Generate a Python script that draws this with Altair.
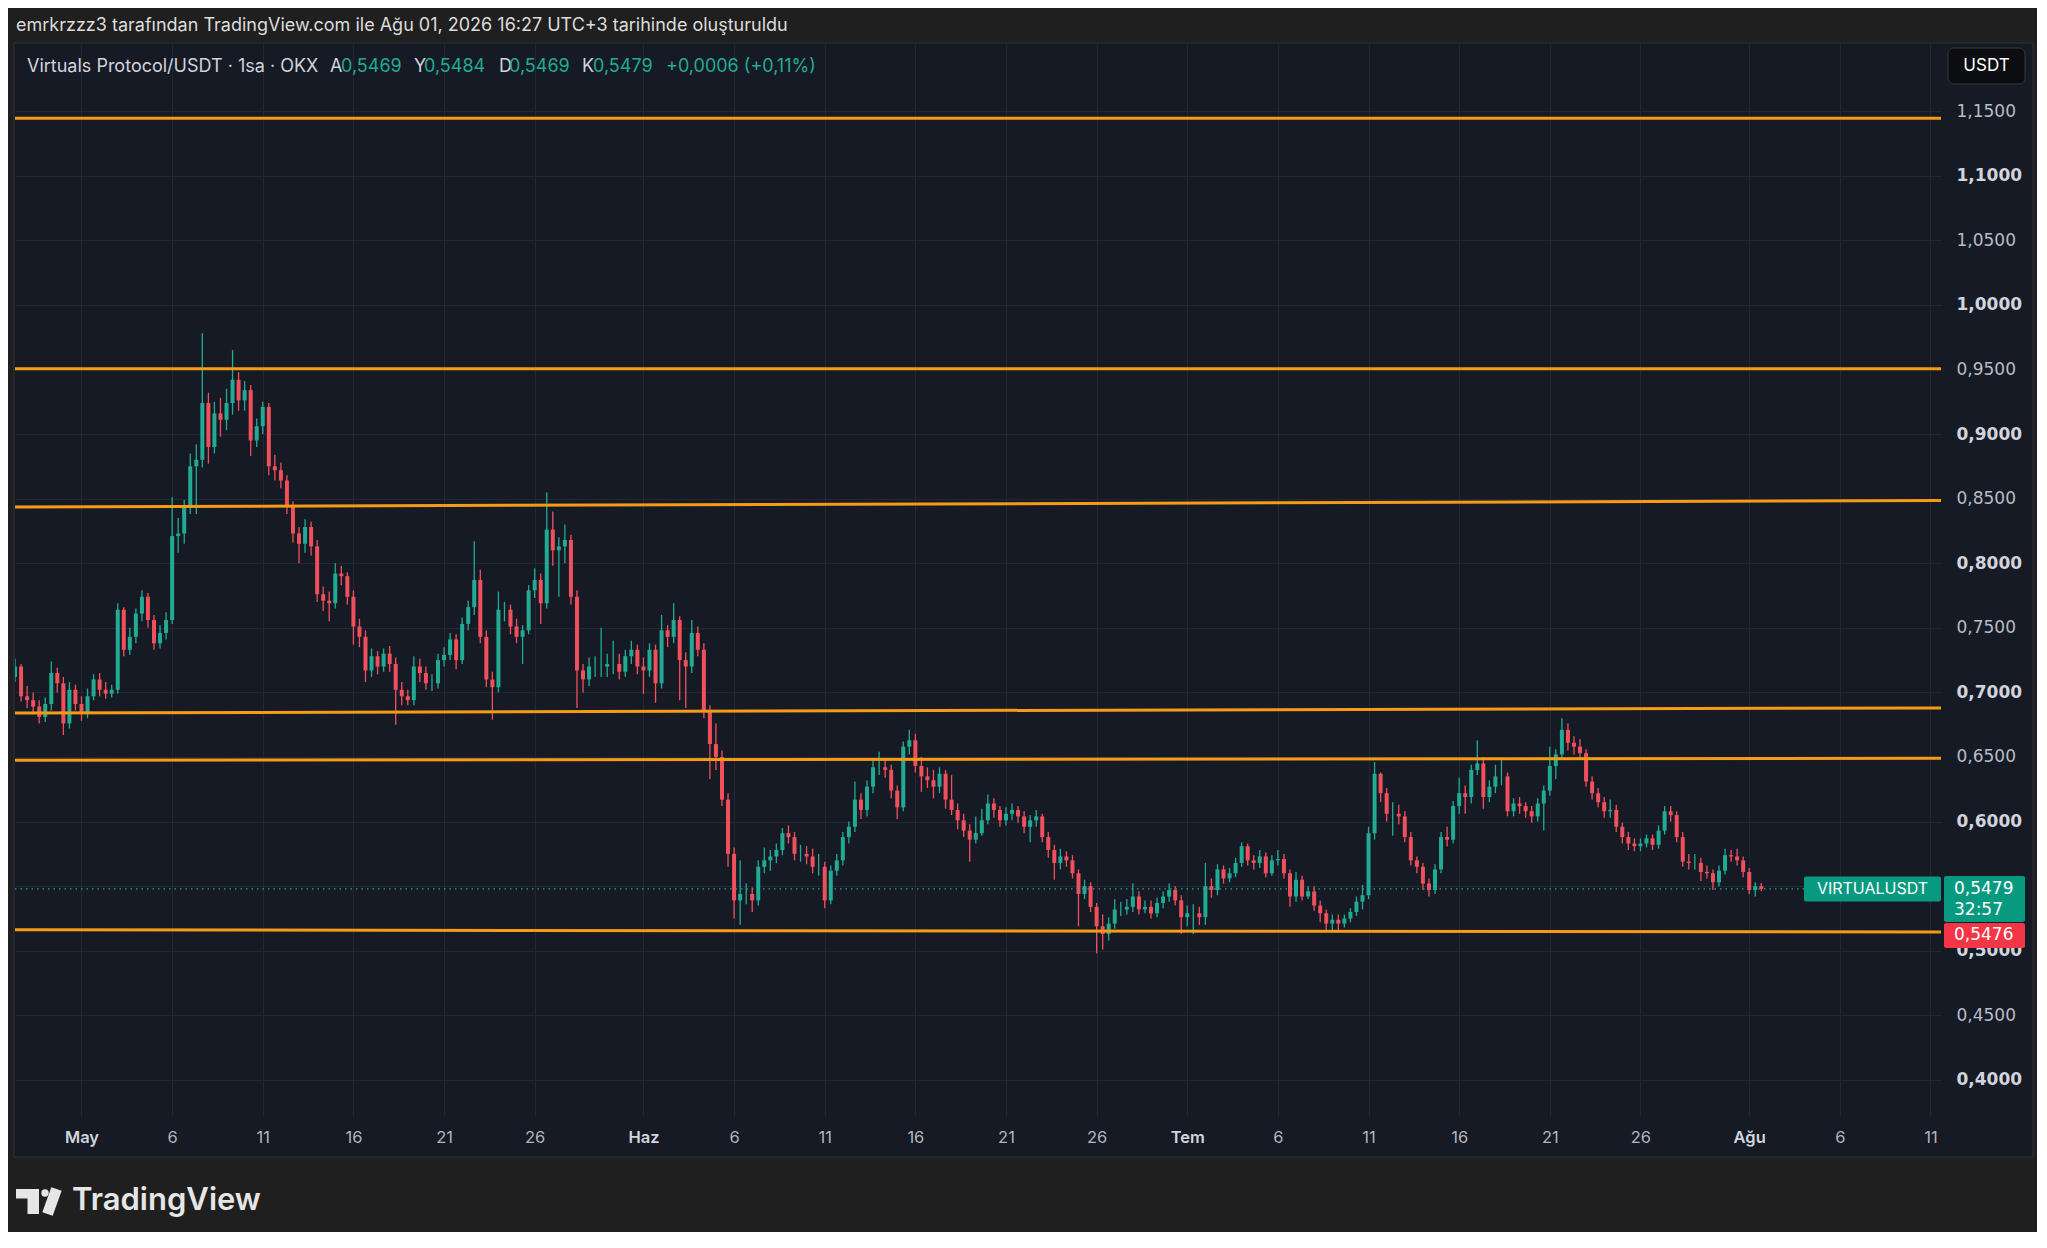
import altair as alt
import pandas as pd

# ---------------- data ----------------
START_DAY = -4.0          # day 0 = 1 May, one candle every 8 hours
FIRST_OPEN = 0.715

CLOSE = [
    0.712, 0.720, 0.697,  0.694, 0.689, 0.681,  0.691, 0.715, 0.707,  0.676, 0.702, 0.691,
    0.684, 0.697, 0.710,  0.702, 0.699, 0.702,  0.764, 0.733, 0.743,  0.761, 0.774, 0.756,
    0.738, 0.746, 0.756,  0.821, 0.823, 0.844,  0.875, 0.880, 0.924,  0.890, 0.916, 0.911,
    0.924, 0.942, 0.926,  0.934, 0.895, 0.906,  0.921, 0.875, 0.872,  0.864, 0.844, 0.823,
    0.815, 0.828, 0.813,  0.776, 0.771, 0.769,  0.792, 0.790, 0.774,  0.751, 0.743, 0.717,
    0.728, 0.720, 0.730,  0.722, 0.702, 0.697,  0.694, 0.720, 0.715,  0.707, 0.707, 0.725,
    0.729, 0.741, 0.725,  0.753, 0.766, 0.787,  0.743, 0.710, 0.704,  0.764, 0.764, 0.751,
    0.743, 0.748, 0.779,  0.787, 0.769, 0.826,  0.810, 0.813, 0.818,  0.774, 0.717, 0.710,
    0.720, 0.720, 0.720,  0.722, 0.722, 0.716,  0.728, 0.733, 0.720,  0.717, 0.733, 0.707,
    0.748, 0.743, 0.756,  0.725, 0.720, 0.746,  0.733, 0.686, 0.660,  0.650, 0.617, 0.575,
    0.539, 0.544, 0.544,  0.539, 0.565, 0.570,  0.573, 0.578, 0.591,  0.588, 0.575, 0.575,
    0.573, 0.565, 0.565,  0.539, 0.562, 0.570,  0.588, 0.596, 0.617,  0.609, 0.627, 0.642,
    0.642, 0.640, 0.624,  0.611, 0.658, 0.663,  0.643, 0.635, 0.632,  0.627, 0.637, 0.617,
    0.609, 0.601, 0.593,  0.586, 0.591, 0.601,  0.614, 0.609, 0.601,  0.606, 0.609, 0.604,
    0.596, 0.601, 0.604,  0.588, 0.578, 0.568,  0.573, 0.570, 0.560,  0.544, 0.550, 0.534,
    0.519, 0.513, 0.521,  0.532, 0.532, 0.534,  0.542, 0.532, 0.534,  0.529, 0.537, 0.542,
    0.547, 0.539, 0.526,  0.529, 0.529, 0.526,  0.550, 0.547, 0.563,  0.556, 0.560, 0.568,
    0.581, 0.570, 0.568,  0.573, 0.560, 0.570,  0.571, 0.560, 0.542,  0.555, 0.542, 0.546,
    0.535, 0.529, 0.521,  0.524, 0.521, 0.525,  0.530, 0.538, 0.543,  0.591, 0.637, 0.622,
    0.606, 0.606, 0.604,  0.588, 0.570, 0.565,  0.552, 0.547, 0.563,  0.588, 0.586, 0.612,
    0.622, 0.619, 0.640,  0.645, 0.619, 0.627,  0.635, 0.635, 0.608,  0.614, 0.612, 0.608,
    0.604, 0.614, 0.624,  0.643, 0.652, 0.671,  0.661, 0.658, 0.653,  0.631, 0.622, 0.615,
    0.608, 0.609, 0.596,  0.588, 0.583, 0.581,  0.583, 0.587, 0.582,  0.593, 0.608, 0.605,
    0.588, 0.569, 0.568,  0.568, 0.561, 0.560,  0.553, 0.562, 0.574,  0.573, 0.570, 0.561,
    0.547, 0.550, 0.5479,
]

HIGH = [
    0.722, 0.726, 0.722,  0.705, 0.700, 0.694,  0.696, 0.724, 0.719,  0.712, 0.708, 0.706,
    0.697, 0.703, 0.714,  0.715, 0.708, 0.706,  0.769, 0.766, 0.750,  0.765, 0.779, 0.777,
    0.760, 0.752, 0.762,  0.851, 0.835, 0.849,  0.885, 0.892, 0.978,  0.932, 0.925, 0.928,
    0.935, 0.965, 0.948,  0.941, 0.938, 0.912,  0.925, 0.924, 0.884,  0.878, 0.868, 0.848,
    0.828, 0.834, 0.832,  0.818, 0.782, 0.778,  0.800, 0.798, 0.793,  0.779, 0.757, 0.748,
    0.734, 0.732, 0.734,  0.736, 0.727, 0.708,  0.702, 0.728, 0.726,  0.720, 0.714, 0.730,
    0.735, 0.746, 0.745,  0.758, 0.771, 0.817,  0.795, 0.748, 0.716,  0.778, 0.770, 0.768,
    0.757, 0.752, 0.783,  0.796, 0.792, 0.855,  0.840, 0.820, 0.830,  0.822, 0.779, 0.722,
    0.727, 0.728, 0.750,  0.730, 0.740, 0.730,  0.733, 0.740, 0.737,  0.727, 0.738, 0.737,
    0.760, 0.752, 0.769,  0.759, 0.731, 0.756,  0.751, 0.738, 0.690,  0.676, 0.655, 0.622,
    0.580, 0.570, 0.552,  0.549, 0.570, 0.580,  0.578, 0.583, 0.595,  0.597, 0.592, 0.582,
    0.581, 0.579, 0.575,  0.569, 0.566, 0.575,  0.592, 0.600, 0.631,  0.622, 0.632, 0.647,
    0.654, 0.648, 0.644,  0.628, 0.662, 0.671,  0.668, 0.650, 0.642,  0.640, 0.642, 0.640,
    0.636, 0.614, 0.606,  0.598, 0.604, 0.610,  0.621, 0.618, 0.612,  0.611, 0.614, 0.612,
    0.608, 0.605, 0.609,  0.606, 0.592, 0.582,  0.579, 0.577, 0.574,  0.563, 0.555, 0.553,
    0.537, 0.528, 0.526,  0.540, 0.538, 0.540,  0.552, 0.546, 0.539,  0.539, 0.541, 0.546,
    0.552, 0.550, 0.543,  0.535, 0.536, 0.534,  0.568, 0.556, 0.567,  0.566, 0.564, 0.572,
    0.584, 0.583, 0.574,  0.578, 0.576, 0.574,  0.578, 0.575, 0.563,  0.561, 0.558, 0.550,
    0.550, 0.539, 0.532,  0.528, 0.528, 0.528,  0.533, 0.542, 0.551,  0.596, 0.646, 0.638,
    0.626, 0.615, 0.613,  0.608, 0.592, 0.573,  0.568, 0.556, 0.567,  0.592, 0.596, 0.616,
    0.634, 0.628, 0.644,  0.663, 0.650, 0.632,  0.644, 0.649, 0.638,  0.618, 0.619, 0.615,
    0.612, 0.618, 0.628,  0.658, 0.656, 0.680,  0.676, 0.666, 0.664,  0.656, 0.635, 0.626,
    0.619, 0.617, 0.613,  0.599, 0.592, 0.587,  0.587, 0.590, 0.590,  0.597, 0.612, 0.612,
    0.608, 0.592, 0.575,  0.575, 0.572, 0.566,  0.563, 0.566, 0.579,  0.578, 0.579, 0.573,
    0.564, 0.553, 0.5525,
]

LOW = [
    0.706, 0.708, 0.693,  0.688, 0.683, 0.676,  0.677, 0.686, 0.700,  0.667, 0.672, 0.686,
    0.678, 0.680, 0.694,  0.697, 0.695, 0.696,  0.699, 0.728, 0.729,  0.738, 0.755, 0.750,
    0.733, 0.734, 0.741,  0.753, 0.808, 0.815,  0.838, 0.838, 0.874,  0.877, 0.885, 0.898,
    0.903, 0.915, 0.918,  0.918, 0.883, 0.890,  0.900, 0.868, 0.864,  0.858, 0.838, 0.816,
    0.800, 0.808, 0.806,  0.770, 0.763, 0.755,  0.765, 0.783, 0.768,  0.737, 0.735, 0.708,
    0.712, 0.714, 0.716,  0.716, 0.675, 0.690,  0.690, 0.690, 0.708,  0.702, 0.701, 0.703,
    0.720, 0.725, 0.718,  0.722, 0.748, 0.760,  0.738, 0.704, 0.679,  0.700, 0.755, 0.745,
    0.738, 0.722, 0.745,  0.773, 0.753, 0.765,  0.798, 0.774, 0.800,  0.768, 0.688, 0.700,
    0.705, 0.712, 0.712,  0.712, 0.714, 0.710,  0.712, 0.722, 0.714,  0.699, 0.712, 0.692,
    0.703, 0.735, 0.738,  0.694, 0.688, 0.715,  0.728, 0.680, 0.633,  0.640, 0.612, 0.565,
    0.525, 0.520, 0.536,  0.530, 0.535, 0.560,  0.562, 0.568, 0.574,  0.583, 0.570, 0.569,
    0.567, 0.560, 0.558,  0.533, 0.536, 0.558,  0.566, 0.583, 0.592,  0.602, 0.604, 0.622,
    0.636, 0.634, 0.618,  0.602, 0.608, 0.652,  0.638, 0.623, 0.626,  0.618, 0.622, 0.610,
    0.605, 0.594, 0.588,  0.569, 0.583, 0.589,  0.598, 0.603, 0.596,  0.597, 0.601, 0.599,
    0.591, 0.584, 0.596,  0.584, 0.572, 0.555,  0.563, 0.565, 0.556,  0.519, 0.540, 0.530,
    0.498, 0.501, 0.508,  0.517, 0.527, 0.528,  0.530, 0.528, 0.529,  0.525, 0.526, 0.533,
    0.538, 0.535, 0.513,  0.519, 0.513, 0.520,  0.520, 0.541, 0.543,  0.552, 0.553, 0.557,
    0.565, 0.566, 0.563,  0.564, 0.557, 0.558,  0.566, 0.556, 0.534,  0.538, 0.539, 0.540,
    0.531, 0.522, 0.516,  0.516, 0.516, 0.518,  0.522, 0.527, 0.532,  0.540, 0.586, 0.615,
    0.600, 0.589, 0.598,  0.584, 0.566, 0.560,  0.547, 0.542, 0.544,  0.560, 0.581, 0.583,
    0.606, 0.606, 0.614,  0.636, 0.610, 0.615,  0.622, 0.628, 0.604,  0.604, 0.606, 0.603,
    0.599, 0.600, 0.593,  0.620, 0.633, 0.648,  0.655, 0.652, 0.648,  0.627, 0.617, 0.611,
    0.603, 0.603, 0.592,  0.583, 0.578, 0.577,  0.577, 0.580, 0.578,  0.579, 0.590, 0.600,
    0.584, 0.565, 0.563,  0.563, 0.554, 0.556,  0.547, 0.550, 0.559,  0.569, 0.566, 0.557,
    0.544, 0.542, 0.5460,
]

# drawn trend lines: price at the left and right edge of the pane
LINE_LEFT = [1.1445, 0.9505, 0.8435, 0.6840, 0.6475, 0.5162]
LINE_RIGHT = [1.1445, 0.9505, 0.8485, 0.6880, 0.6490, 0.5145]

PRICE_TICKS = [0.40, 0.45, 0.50, 0.55, 0.60, 0.65, 0.70, 0.75, 0.80,
               0.85, 0.90, 0.95, 1.00, 1.05, 1.10, 1.15]
TICK_DAYS = [0, 5, 10, 15, 20, 25, 31, 36, 41, 46, 51, 56, 61, 66, 71, 76, 81, 86, 92, 97, 102]
TICK_LABELS = ["May", "6", "11", "16", "21", "26", "Haz", "6", "11", "16", "21", "26",
               "Tem", "6", "11", "16", "21", "26", "Ağu", "6", "11"]
MONTH_TICKS = [0, 31, 61, 92]

SYMBOL = "VIRTUALUSDT"
TITLE = "Virtuals Protocol/USDT · 1sa · OKX"
OHLC_LETTERS = ["A", "Y", "D", "K"]
OHLC_LAST = [0.5469, 0.5484, 0.5469, 0.5479]
CHANGE_TEXT = "+0,0006 (+0,11%)"
LAST_PRICE = 0.5479
OTHER_PRICE = 0.5476
COUNTDOWN = "32:57"
HEADER = "emrkrzzz3 tarafından TradingView.com ile Ağu 01, 2026 16:27 UTC+3 tarihinde oluşturuldu"
CURRENCY = "USDT"


def fmt(v):
    return f"{v:.4f}".replace(".", ",")


# ---------------- layout / style ----------------
W, H = 1926, 1072
PAD = {"left": 7, "top": 36, "right": 96, "bottom": 116}
X_DOMAIN = [-3.668, 102.58]
Y_DOMAIN = [0.3721, 1.2019]
PANE = "#161a25"
OUTER = "#1f1f1f"
GRID = "#232734"
UP = "#22ab94"
DOWN = "#f0505c"
ORANGE = "#f59c17"
TEAL_BOX = "#089981"
RED_BOX = "#f23645"
FONT = "Inter"
NUMFONT = "DejaVu Sans"


def ypix(p):
    return (Y_DOMAIN[1] - p) / (Y_DOMAIN[1] - Y_DOMAIN[0]) * H


rows = []
o = FIRST_OPEN
for i, (c, h, l) in enumerate(zip(CLOSE, HIGH, LOW)):
    rows.append({"t": START_DAY + i / 3, "o": o, "c": c,
                 "h": max(h, o, c), "l": min(l, o, c),
                 "dir": "up" if c >= o else "down"})
    o = c
candles = pd.DataFrame(rows)

lines = pd.DataFrame({"x0": [X_DOMAIN[0]] * len(LINE_LEFT), "x1": [X_DOMAIN[1]] * len(LINE_LEFT),
                      "y0": LINE_LEFT, "y1": LINE_RIGHT})
one = pd.DataFrame({"k": [0]})

xs = alt.Scale(domain=X_DOMAIN, nice=False, zero=False, padding=0)
ys = alt.Scale(domain=Y_DOMAIN, nice=False, zero=False, padding=0)

label_expr = "".join(f"datum.value == {d} ? '{lab}' : " for d, lab in zip(TICK_DAYS, TICK_LABELS)) + "''"
month_test = "indexof([" + ",".join(str(m) for m in MONTH_TICKS) + "], datum.value) >= 0"

xaxis = alt.Axis(values=TICK_DAYS, labelExpr=label_expr, title=None, grid=True,
                 gridColor=GRID, gridWidth=1, domain=False, ticks=False, tickSize=0,
                 labelPadding=21, labelBaseline="middle", labelFont=FONT, labelFontSize=16.5,
                 labelOverlap=False, labelFlush=False,
                 labelColor={"condition": {"test": month_test, "value": "#d1d4dc"}, "value": "#b2b5be"},
                 labelFontWeight={"condition": {"test": month_test, "value": 600}, "value": 400})
bold_test = "abs(datum.value * 10 - round(datum.value * 10)) < 0.001"
yaxis = alt.Axis(values=PRICE_TICKS, orient="right", title=None, grid=True,
                 gridColor=GRID, gridWidth=1, domain=False, ticks=False, tickSize=0,
                 labelPadding=15, labelAlign="left", labelFont=NUMFONT, labelFontSize=17,
                 labelOverlap=False, labelFlush=False,
                 labelExpr="replace(format(datum.value, '.4f'), '.', ',')",
                 labelColor={"condition": {"test": bold_test, "value": "#d1d4dc"}, "value": "#b8bcc6"},
                 labelFontWeight={"condition": {"test": bold_test, "value": 600}, "value": 400})

color = alt.Color("dir:N", scale=alt.Scale(domain=["up", "down"], range=[UP, DOWN]), legend=None)

wicks = alt.Chart(candles).mark_rule(strokeWidth=1.3, clip=True).encode(
    x=alt.X("t:Q", scale=xs, axis=xaxis),
    y=alt.Y("l:Q", scale=ys, axis=yaxis),
    y2="h:Q",
    color=color,
)
bodies = alt.Chart(candles).mark_bar(size=4, clip=True).encode(
    x=alt.X("t:Q", scale=xs, axis=xaxis),
    y=alt.Y("o:Q", scale=ys, axis=yaxis),
    y2="c:Q",
    color=color,
)
trend = alt.Chart(lines).mark_rule(color=ORANGE, strokeWidth=3, clip=True).encode(
    x=alt.X("x0:Q", scale=xs, axis=xaxis),
    x2="x1:Q",
    y=alt.Y("y0:Q", scale=ys, axis=yaxis),
    y2="y1:Q",
)
last_line = alt.Chart(one).mark_rule(color=UP, strokeWidth=1.2, strokeDash=[1.5, 4]).encode(
    x=alt.value(0), x2=alt.value(W),
    y=alt.Y(datum=LAST_PRICE, scale=ys, axis=yaxis),
)


def box(x0, x1, y0, y1, fill, stroke=None, radius=0):
    kw = {"fill": fill, "cornerRadius": radius}
    if stroke:
        kw.update(stroke=stroke, strokeWidth=1)
    return alt.Chart(one).mark_rect(**kw).encode(
        x=alt.value(x0), x2=alt.value(x1), y=alt.value(y0), y2=alt.value(y1))


def text(s, x, y, size=16, color="#d1d4dc", align="left", weight=400, font=FONT):
    return alt.Chart(one).mark_text(text=s, align=align, baseline="middle", font=font,
                                    fontSize=size, color=color, fontWeight=weight).encode(
        x=alt.value(x), y=alt.value(y))


# outer (non-pane) area and frame
outer = [
    box(-7, W + 96, -36, -1, OUTER),
    box(-7, -1, -36, 1188, OUTER),
    box(2018, W + 96, -36, 1188, OUTER),
    box(-7, W + 96, 1113, 1188, OUTER),
]
frame = alt.Chart(one).mark_rect(fill=None, stroke="#2e3240", strokeWidth=1).encode(
    x=alt.value(-1), x2=alt.value(2018), y=alt.value(-1), y2=alt.value(1113))

# header + legend line
legend_x = [315, 399, 484, 567]
value_x = [326, 409, 494, 578]
head = [text(HEADER, 1, -18, size=18, color="#dcdcdc"),
        text(TITLE, 12, 22.6, size=18, color="#d1d4dc")]
for lx, vx, letter, val in zip(legend_x, value_x, OHLC_LETTERS, OHLC_LAST):
    head.append(text(letter, lx, 22.6, size=18, color="#d1d4dc"))
    head.append(text(fmt(val), vx, 22.6, size=18, color=UP))
head.append(text(CHANGE_TEXT, 651, 22.6, size=18, color=UP))

# currency button
cur = [box(1933, 2010, 4, 40, "#0c0d10", stroke="#363a45", radius=6),
       text(CURRENCY, 1971.5, 22, size=17, color="#ffffff", align="center")]

# price labels
yl = ypix(LAST_PRICE)
tags = [
    box(1789, 1926, yl - 12.5, yl + 12.5, TEAL_BOX, radius=2),
    text(SYMBOL, 1857.5, yl, size=16, color="#ffffff", align="center"),
    box(1929, 2010, yl - 13, yl + 33, TEAL_BOX, radius=2),
    text(fmt(LAST_PRICE), 1939, yl, size=17, color="#ffffff", font=NUMFONT),
    text(COUNTDOWN, 1939, yl + 21, size=17, color="#ffffff", font=NUMFONT),
    box(1929, 2010, yl + 34, yl + 59, RED_BOX, radius=2),
    text(fmt(OTHER_PRICE), 1939, yl + 46.5, size=17, color="#ffffff", font=NUMFONT),
]

# TradingView logo
logo = [
    box(1, 24, 1145, 1154.5, "#e6e6e6"),
    box(12.5, 24, 1145, 1170, "#e6e6e6"),
    alt.Chart(one).mark_circle(color="#e6e6e6", opacity=1, size=55).encode(
        x=alt.value(30), y=alt.value(1149)),
    alt.Chart(one).mark_rule(color="#e6e6e6", strokeWidth=11).encode(
        x=alt.value(41.5), x2=alt.value(32.5), y=alt.value(1145), y2=alt.value(1170)),
    text("TradingView", 57, 1157, size=31, color="#e6e6e6", weight=600),
]

chart = alt.layer(
    *outer, wicks, bodies, trend, last_line, frame, *head, *cur, *tags, *logo
).properties(
    width=W, height=H, padding=PAD,
    autosize=alt.AutoSizeParams(type="none"),
    background=PANE,
).configure_view(strokeWidth=0)

chart.save("out.html", embed_options={"renderer": "svg", "actions": False})
